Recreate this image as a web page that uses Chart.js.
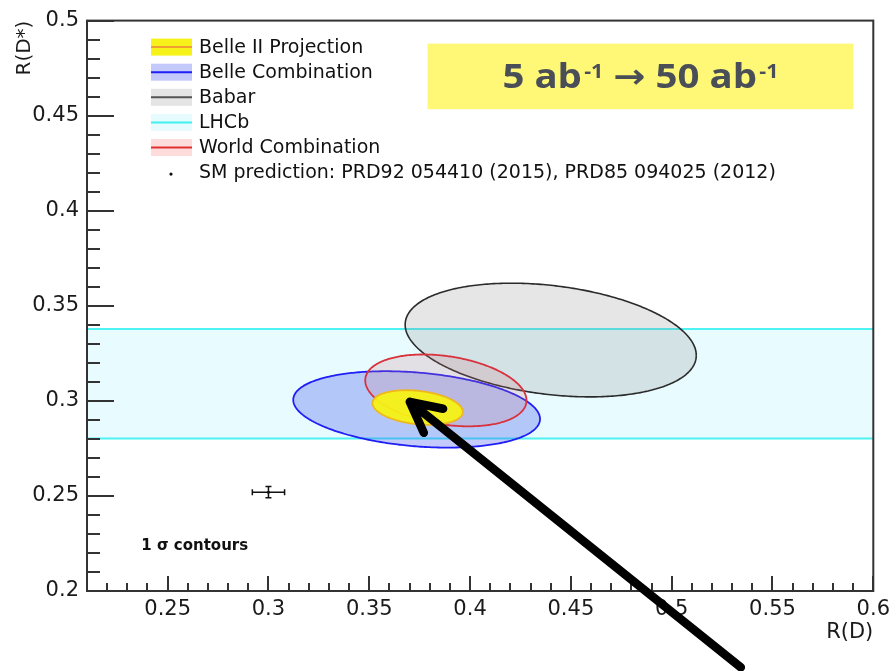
<!DOCTYPE html>
<html lang="en">
<head>
<meta charset="UTF-8">
<title>R(D) vs R(D*)</title>
<script src="https://cdn.jsdelivr.net/npm/chart.js"></script>
<style>
  html, body { margin: 0; padding: 0; background: #ffffff; }
  #wrap { position: relative; width: 896px; height: 671px; }
</style>
</head>
<body>
<div id="wrap"><canvas id="rdChart"></canvas></div>
<script>
// measurements, 1 sigma: R(D), R(D*), errors and correlation
const names     = ['Belle II Projection', 'Belle Combination', 'Babar', 'LHCb', 'World Combination'];
const centreRD  = [0.374, 0.3735, 0.440, null, 0.388];
const centreRDs = [0.2965, 0.2955, 0.332, 0.309, 0.3055];
const errRD     = [0.0224, 0.0612, 0.0722, null, 0.040];
const errRDs    = [0.0091, 0.0201, 0.0299, 0.0288, 0.0189];
const corr      = [-0.25, -0.25, -0.27, null, -0.28];

// SM prediction (R(D), R(D*)) and its errors
const smPoint = [0.300, 0.252];
const smErr   = [0.008, 0.003];

// axes
const xRange  = [0.21, 0.6];
const yRange  = [0.2, 0.5];
const xLabels = ['0.25', '0.3', '0.35', '0.4', '0.45', '0.5', '0.55', '0.6'];
const yLabels = ['0.2', '0.25', '0.3', '0.35', '0.4', '0.45', '0.5'];

// styles
const fillColors = ['rgba(247,242,20,0.95)', 'rgba(60,80,240,0.30)', 'rgba(128,128,128,0.20)', '#e8fbfe', 'rgba(210,120,130,0.20)'];
const lineColors = ['#efb81a', '#1f1ff5', '#2b2b2b', '#4ff2f2', '#d8323c'];
const legendFill = ['#f7f21a', '#c3c9fb', '#e4e4e4', '#e6fbfe', '#ffdcdc'];
const legendLine = ['#f0a030', '#1f1ff5', '#555555', '#3ff0f0', '#e03030'];

function contour(i) {
  const pts = [];
  const s = Math.sqrt(1 - corr[i] * corr[i]);
  for (let k = 0; k <= 180; k++) {
    const t = 2 * Math.PI * k / 180;
    pts.push({
      x: centreRD[i] + errRD[i] * Math.cos(t),
      y: centreRDs[i] + errRDs[i] * (corr[i] * Math.cos(t) + s * Math.sin(t))
    });
  }
  return pts;
}

function findLabel(list, v) {
  const hit = list.find(l => Math.abs(parseFloat(l) - v) < 1e-6);
  return hit === undefined ? '' : hit;
}

// LHCb only measures R(D*): horizontal band
const lhcbHi = centreRDs[3] + errRDs[3];
const lhcbLo = centreRDs[3] - errRDs[3];

const datasets = [
  { label: 'LHCb', data: [{x: xRange[0], y: lhcbHi}, {x: xRange[1], y: lhcbHi}],
    borderColor: lineColors[3], backgroundColor: fillColors[3], borderWidth: 2, fill: '+1', order: 10 },
  { label: 'LHCb low', data: [{x: xRange[0], y: lhcbLo}, {x: xRange[1], y: lhcbLo}],
    borderColor: lineColors[3], borderWidth: 2, fill: false, order: 9 }
];
// order: Babar under Belle under World under Belle II
[[2, 4], [1, 3], [4, 2], [0, 1]].forEach(([i, ord]) => {
  datasets.push({
    label: names[i], data: contour(i),
    borderColor: lineColors[i], backgroundColor: fillColors[i],
    borderWidth: i === 2 ? 1.6 : 1.8, fill: 'shape', order: ord,
    tension: 0.001 // keeps chart.js off its pixel-column fast path (notches at the ends)
  });
});
datasets.push({
  label: 'SM', data: [{x: smPoint[0], y: smPoint[1]}], showLine: false,
  pointRadius: 1.5, pointBackgroundColor: '#000', pointBorderWidth: 0, order: 0
});

function isMajor(v) { return Math.abs(v * 20 - Math.round(v * 20)) < 1e-6; }

const decor = {
  id: 'decor',
  afterDatasetsDraw(chart) {
    const {ctx, scales: {x, y}} = chart;
    // SM error bars
    const px = x.getPixelForValue(smPoint[0]), py = y.getPixelForValue(smPoint[1]);
    const x0 = x.getPixelForValue(smPoint[0] - smErr[0]), x1 = x.getPixelForValue(smPoint[0] + smErr[0]);
    const y0 = y.getPixelForValue(smPoint[1] - smErr[1]), y1 = y.getPixelForValue(smPoint[1] + smErr[1]);
    ctx.save();
    ctx.strokeStyle = '#111'; ctx.lineWidth = 1.5;
    ctx.beginPath();
    ctx.moveTo(x0, py); ctx.lineTo(x1, py);
    ctx.moveTo(x0, py - 3); ctx.lineTo(x0, py + 3);
    ctx.moveTo(x1, py - 3); ctx.lineTo(x1, py + 3);
    ctx.moveTo(px, y0); ctx.lineTo(px, y1);
    ctx.moveTo(px - 3, y0); ctx.lineTo(px + 3, y0);
    ctx.moveTo(px - 3, y1); ctx.lineTo(px + 3, y1);
    ctx.stroke();
    ctx.restore();
  },
  afterDraw(chart) {
    const {ctx, chartArea: a, scales: {x, y}} = chart;
    ctx.save();
    // inner tick marks and frame
    ctx.strokeStyle = '#333'; ctx.lineWidth = 2;
    ctx.beginPath();
    x.ticks.forEach(t => {
      const p = Math.round(x.getPixelForValue(t.value));
      ctx.moveTo(p, a.bottom); ctx.lineTo(p, a.bottom - (isMajor(t.value) ? 15 : 8));
    });
    y.ticks.forEach(t => {
      const p = Math.round(y.getPixelForValue(t.value));
      ctx.moveTo(a.left, p); ctx.lineTo(a.left + (isMajor(t.value) ? 27 : 13), p);
    });
    ctx.stroke();
    ctx.strokeRect(a.left, a.top, a.right - a.left, a.bottom - a.top);

    // legend
    ctx.font = '19px "DejaVu Sans"';
    ctx.textBaseline = 'alphabetic';
    ctx.textAlign = 'left';
    const lx = a.left + 64;
    names.forEach((n, i) => {
      const base = a.top + 32 + i * 25.1;
      const cy = base - 5.5;
      ctx.fillStyle = legendFill[i];
      ctx.fillRect(lx, cy - 8.5, 41, 17);
      ctx.strokeStyle = legendLine[i]; ctx.lineWidth = 2;
      ctx.beginPath(); ctx.moveTo(lx, cy); ctx.lineTo(lx + 41, cy); ctx.stroke();
      ctx.fillStyle = '#111';
      ctx.fillText(n, lx + 48, base);
    });
    const smBase = a.top + 32 + 5 * 25.1;
    ctx.beginPath(); ctx.arc(lx + 20, smBase - 4, 1.6, 0, 2 * Math.PI); ctx.fill();
    ctx.fillText('SM prediction: PRD92 054410 (2015), PRD85 094025 (2012)', lx + 48, smBase);

    // "1 sigma contours"
    ctx.font = 'bold 15px "DejaVu Sans"';
    ctx.fillText('1 \u03c3 contours', x.getPixelForValue(0.2369), y.getPixelForValue(0.2214));

    // luminosity box
    const bx0 = x.getPixelForValue(0.3789), bx1 = x.getPixelForValue(0.5901);
    const by0 = y.getPixelForValue(0.4879), by1 = y.getPixelForValue(0.4534);
    ctx.fillStyle = '#fff877';
    ctx.fillRect(bx0, by0, bx1 - bx0, by1 - by0);
    const parts = [['5 ab', false], ['-1', true], [' \u2192 50 ab', false], ['-1', true]];
    const mainFont = 'bold 34px "Open Sans", "DejaVu Sans"';
    const supFont = 'bold 19px "Open Sans", "DejaVu Sans"';
    let w = 0;
    parts.forEach(([t, sup]) => { ctx.font = sup ? supFont : mainFont; w += ctx.measureText(t).width + (sup ? 2 : 0); });
    const sx = 276 / w;
    const base = (by0 + by1) / 2 + 12;
    ctx.save();
    ctx.translate((bx0 + bx1) / 2 - 138, base);
    ctx.scale(sx, 1);
    ctx.fillStyle = '#4a4f57';
    let cx = 0;
    parts.forEach(([t, sup]) => {
      ctx.font = sup ? supFont : mainFont;
      if (sup) cx += 2;
      ctx.fillText(t, cx, sup ? -10 : 0);
      cx += ctx.measureText(t).width;
    });
    ctx.restore();

    // arrow pointing at the Belle II projection
    const tipX = x.getPixelForValue(0.3701), tipY = y.getPixelForValue(0.2995);
    const tailX = x.getPixelForValue(0.5343), tailY = y.getPixelForValue(0.1598);
    const ang = Math.atan2(tailY - tipY, tailX - tipX);
    ctx.strokeStyle = '#000'; ctx.lineWidth = 8.5;
    ctx.lineCap = 'round'; ctx.lineJoin = 'round';
    ctx.beginPath();
    ctx.moveTo(tailX, tailY); ctx.lineTo(tipX, tipY);
    ctx.moveTo(tipX + 34 * Math.cos(ang - 0.47), tipY + 34 * Math.sin(ang - 0.47));
    ctx.lineTo(tipX, tipY);
    ctx.lineTo(tipX + 34 * Math.cos(ang + 0.47), tipY + 34 * Math.sin(ang + 0.47));
    ctx.stroke();
    ctx.restore();
  }
};

Chart.defaults.font.family = '"DejaVu Sans", sans-serif';
Chart.defaults.color = '#1a1a1a';

new Chart(document.getElementById('rdChart'), {
  type: 'line',
  data: { datasets: datasets },
  options: {
    responsive: true,
    maintainAspectRatio: false,
    animation: false,
    events: [],
    elements: { point: { radius: 0 }, line: { tension: 0 } },
    layout: { padding: { top: 18, right: 18, bottom: 0, left: 0 } },
    plugins: { legend: { display: false }, tooltip: { enabled: false } },
    scales: {
      x: {
        type: 'linear', min: xRange[0], max: xRange[1],
        grid: { display: false, drawTicks: false },
        border: { display: false },
        ticks: {
          stepSize: 0.01, autoSkip: false, maxRotation: 0, padding: 6,
          font: { size: 21 }, color: '#1a1a1a',
          callback: v => findLabel(xLabels, v)
        },
        title: { display: true, text: 'R(D)', align: 'end', font: { size: 21 }, color: '#1a1a1a', padding: { top: 0, bottom: 26 } },
        afterFit: s => { s.height = 80; }
      },
      y: {
        type: 'linear', min: yRange[0], max: yRange[1],
        grid: { display: false, drawTicks: false },
        border: { display: false },
        ticks: {
          stepSize: 0.01, autoSkip: false, padding: 8,
          font: { size: 21 }, color: '#1a1a1a',
          callback: v => findLabel(yLabels, v)
        },
        title: { display: true, text: 'R(D*)', align: 'end', font: { size: 20 }, color: '#1a1a1a', padding: { top: 13, bottom: 0 } },
        afterFit: s => { s.width = 87; }
      }
    }
  },
  plugins: [decor]
});
</script>
</body>
</html>
